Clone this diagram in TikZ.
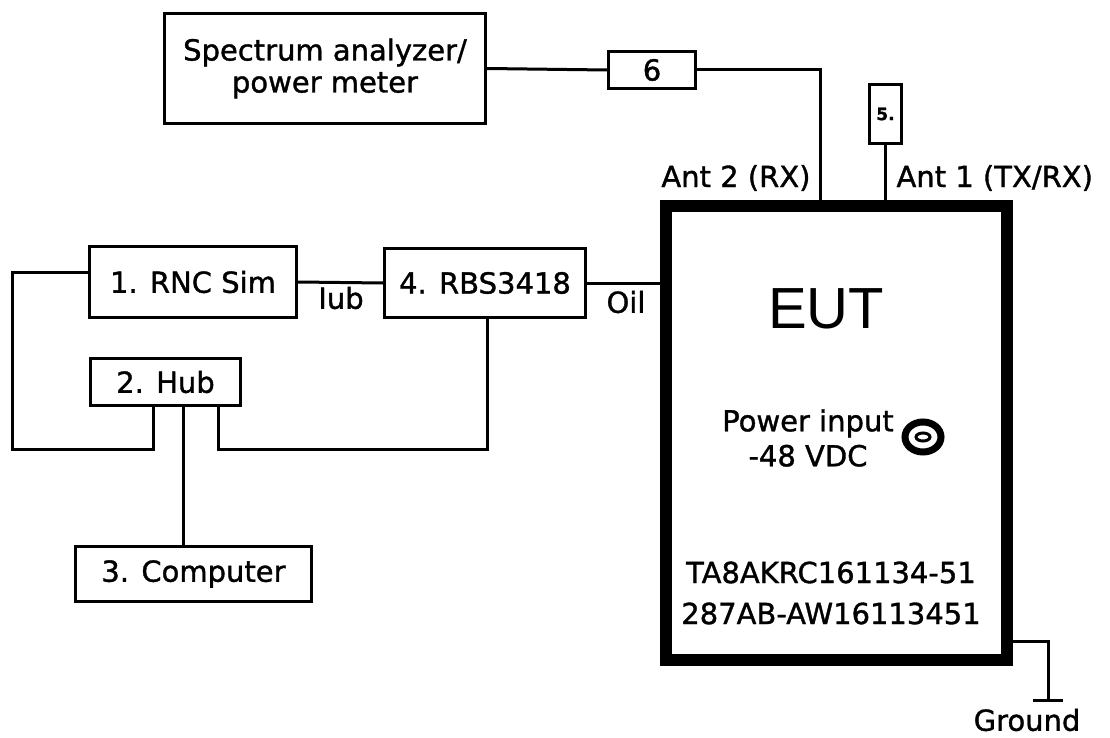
\documentclass[tikz,border=0pt]{standalone}
\usepackage{fontspec}
\setmainfont[FakeBold=1.2]{DejaVu Sans}
\newfontfamily\eutfont{Liberation Sans}

\begin{document}
\begin{tikzpicture}[x=1pt, y=-1pt, line width=3pt,
  blk/.style={draw, line width=3pt, inner sep=0pt, align=center, font=\fontsize{29}{32}\selectfont},
  lbl/.style={inner sep=0pt, font=\fontsize{29}{32}\selectfont}]
\useasboundingbox (0,0) rectangle (1110,738);
% 仪器方框
\node[blk, minimum width=321pt, minimum height=110pt] (spec) at (325,68.5) {Spectrum analyzer/\\power meter};
\node[blk, minimum width=87pt, minimum height=37pt] (six) at (652,70) {6};
\node[blk, minimum width=32pt, minimum height=59pt, font=\fontsize{17}{20}\selectfont\bfseries] (five) at (885.5,114) {5.};
\node[blk, minimum width=207pt, minimum height=71pt] (rnc) at (193,282) {1. RNC Sim};
\node[blk, minimum width=201pt, minimum height=69pt] (rbs) at (485,283) {4. RBS3418};
\node[blk, minimum width=150pt, minimum height=47pt] (hub) at (165.5,382) {2. Hub};
\node[blk, minimum width=236pt, minimum height=55pt] (comp) at (193.5,574) {3. Computer};
% 被测设备 EUT
\node[draw, line width=12pt, minimum width=341pt, minimum height=454pt, inner sep=0pt] (eut) at (836.5,433) {};
\node[inner sep=0pt, font=\eutfont\fontsize{58}{60}\selectfont] (euttxt) at (826,309) {EUT};
\node[lbl, align=center, font=\fontsize{29}{35}\selectfont] (pwr) at (808,438) {Power input\\-48 VDC};
\node[lbl, align=center, font=\fontsize{29}{41}\selectfont] (serial) at (831,593) {TA8AKRC161134-51\\287AB-AW16113451};
\draw[line width=7pt] (923,437) ellipse (18pt and 15pt);
\draw (923,437) ellipse (7pt and 4pt);
% 连线
\coordinate (ant2) at (820,206);
\coordinate (loopL) at (12,449);
\coordinate (loopR) at (487,449);
\coordinate (gnd) at (1048,700);
\draw (spec.east) -- (six.west);
\draw (six.east) -| (ant2);
\draw (five.south) -- (five.south |- eut.north);
\draw (rnc.east) -- (rbs.west);
\draw (rbs.east) -- (rbs.east -| eut.west);
\draw ([yshift=10pt]rnc.west) -| (loopL) -| ([xshift=-12.5pt]hub.south);
\draw ([xshift=17.5pt]hub.south) -- ([xshift=17.5pt]hub.south |- comp.north);
\draw ([xshift=52.5pt]hub.south) |- (loopR) -- (loopR |- rbs.south);
\draw ([yshift=-208pt]eut.east) -| (gnd);
\draw ([xshift=-15pt]gnd) -- ([xshift=15pt]gnd);
% 标注
\node[lbl, anchor=base east] (ant2lbl) at (812,187) {Ant 2 (RX)};
\node[lbl, anchor=base west] (ant1lbl) at (895,187) {Ant 1 (TX/RX)};
\node[lbl] (iub) at (341,298) {Iub};
\node[lbl] (oil) at (626,302) {Oil};
\node[lbl] (gndlbl) at (1027,720) {Ground};
\end{tikzpicture}
\end{document}
